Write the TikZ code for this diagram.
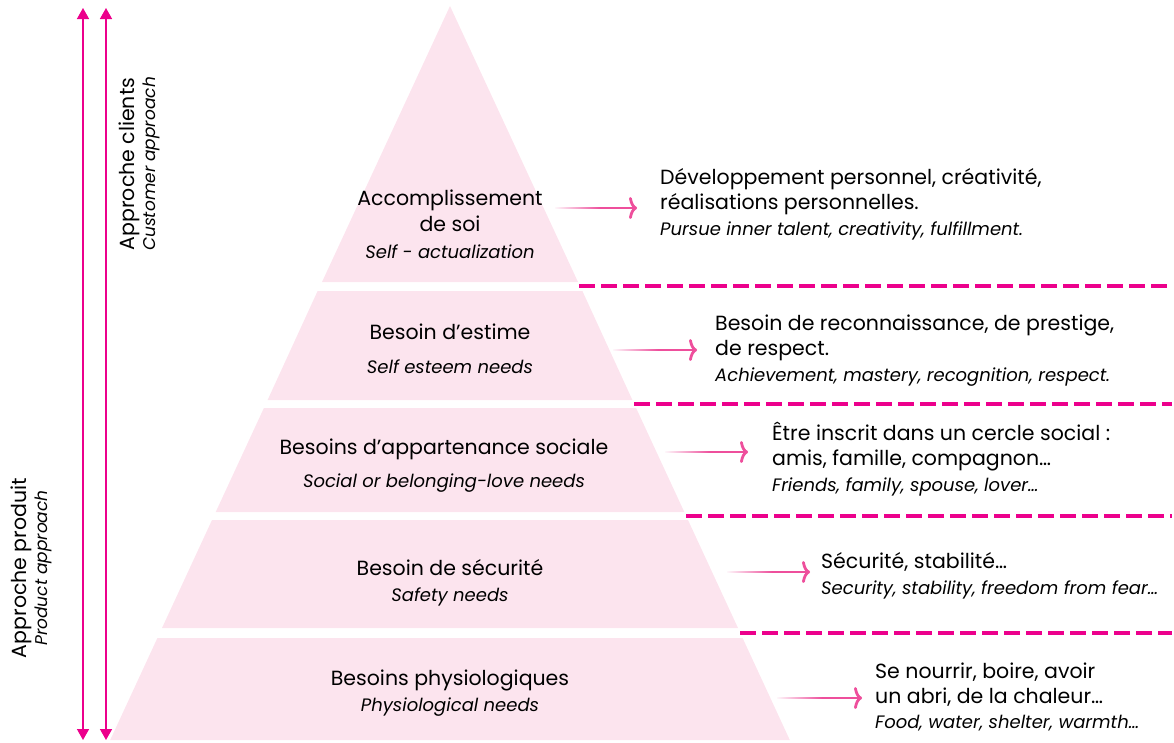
\documentclass[tikz,border=0pt]{standalone}
\usepackage{fontspec}
\setmainfont{Poppins}
\usetikzlibrary{arrows.meta,fadings}
\definecolor{pk01}{HTML}{FCE4EE}
\definecolor{pk02}{HTML}{EC008C}
\definecolor{pk03}{HTML}{EE4F9C}
\tikzset{
  layer/.style={fill=pk01},
  lvltext/.style={anchor=base, align=center, inner sep=0pt, font=\fontsize{20.5}{26}\selectfont},
  desctext/.style={anchor=base west, align=left, inner sep=0pt, font=\fontsize{20.5}{25}\selectfont},
  sidetext/.style={rotate=90, align=center, inner sep=0pt, font=\fontsize{20.5}{21}\selectfont},
  levelarrow/.style={pk03, line width=2.8pt, -{To[length=8pt,width=22pt]}},
  tailfade/.style={fill=white, path fading=east},
  sidearrow/.style={pk02, line width=1.5pt, {Triangle[length=11pt,width=12pt]}-{Triangle[length=11pt,width=12pt]}},
  dashline/.style={pk02, line width=4pt, dash pattern=on 16pt off 6pt},
}
\newcommand{\sub}[1]{{\fontsize{18}{22}\selectfont\itshape #1}}
\newcommand{\sidesub}[1]{{\fontsize{17}{21}\selectfont\itshape #1}}

\begin{document}
\begin{tikzpicture}[x=1pt,y=-1pt]
            \useasboundingbox (0,0) rectangle (1174,742);
            % pyramid
            \fill[layer] (450,6) -- (578,282) -- (322,282) -- cycle;
            \fill[layer] (317.6,291) -- (582.4,291) -- (632.4,400) -- (267.6,400) -- cycle;
            \fill[layer] (263.9,408) -- (636.1,408) -- (684.3,512) -- (215.7,512) -- cycle;
            \fill[layer] (212,520) -- (688,520) -- (738,628) -- (162,628) -- cycle;
            \fill[layer] (157.4,638) -- (742.6,638) -- (789.8,740) -- (110.2,740) -- cycle;
            % separators
            \draw[dashline] (579,285.5) -- (1172,285.5);
            \draw[dashline] (634,404) -- (1172,404);
            \draw[dashline] (686,516) -- (1172,516);
            \draw[dashline] (740,633) -- (1172,633);
            % levels
            \node[lvltext] (lvl1) at (450,258) {Accomplissement\\de soi\\[1pt]\sub{Self - actualization}};
            \node[lvltext] (lvl2) at (450,373) {Besoin d’estime\\[8pt]\sub{Self esteem needs}};
            \node[lvltext] (lvl3) at (444,487) {Besoins d’appartenance sociale\\[7pt]\sub{Social or belonging-love needs}};
            \node[lvltext] (lvl4) at (450,601) {Besoin de sécurité\\\sub{Safety needs}};
            \node[lvltext] (lvl5) at (450,711) {Besoins physiologiques\\\sub{Physiological needs}};
            % descriptions
            \node[desctext] (desc1) at (660,235) {Développement personnel, créativité,\\réalisations personnelles.\\[1pt]\sub{Pursue inner talent, creativity, fulfillment.}};
            \node[desctext] (desc2) at (715,381) {Besoin de reconnaissance, de prestige,\\de respect.\\[1pt]\sub{Achievement, mastery, recognition, respect.}};
            \node[desctext] (desc3) at (772,491) {Être inscrit dans un cercle social :\\amis, famille, compagnon…\\[1pt]\sub{Friends, family, spouse, lover…}};
            \node[desctext] (desc4) at (821,594) {Sécurité, stabilité…\\[1pt]\sub{Security, stability, freedom from fear…}};
            \node[desctext] (desc5) at (875,728) {Se nourrir, boire, avoir\\un abri, de la chaleur…\\\sub{Food, water, shelter, warmth…}};
            % arrows
            \coordinate (a1) at (555,208);
            \coordinate (a2) at (613,350);
            \coordinate (a3) at (665,452);
            \coordinate (a4) at (727,572);
            \coordinate (a5) at (777,698);
            \draw[levelarrow, shorten >=23pt] (a1) -- (a1 -| desc1.west);
            \draw[levelarrow, shorten >=18pt] (a2) -- (a2 -| desc2.west);
            \draw[levelarrow, shorten >=24pt] (a3) -- (a3 -| desc3.west);
            \draw[levelarrow, shorten >=11pt] (a4) -- (a4 -| desc4.west);
            \draw[levelarrow, shorten >=13pt] (a5) -- (a5 -| desc5.west);
            \fill[tailfade] ([shift={(-2,-3)}]a1) rectangle ([shift={(45,3)}]a1);
            \fill[tailfade] ([shift={(-2,-3)}]a2) rectangle ([shift={(45,3)}]a2);
            \fill[tailfade] ([shift={(-2,-3)}]a3) rectangle ([shift={(45,3)}]a3);
            \fill[tailfade] ([shift={(-2,-3)}]a4) rectangle ([shift={(45,3)}]a4);
            \fill[tailfade] ([shift={(-2,-3)}]a5) rectangle ([shift={(45,3)}]a5);
            % approaches
            \coordinate (top1) at (83,8);
            \coordinate (bot1) at (83,740);
            \coordinate (top2) at (106,8);
            \coordinate (bot2) at (106,740);
            \draw[sidearrow] (top1) -- (bot1);
            \draw[sidearrow] (top2) -- (bot2);
            \node[sidetext] (client) at (139,164) {Approche clients\\\sidesub{Customer approach}};
            \node[sidetext] (product) at (31,568) {Approche produit\\\sidesub{Product approach}};
        \end{tikzpicture}
\end{document}
